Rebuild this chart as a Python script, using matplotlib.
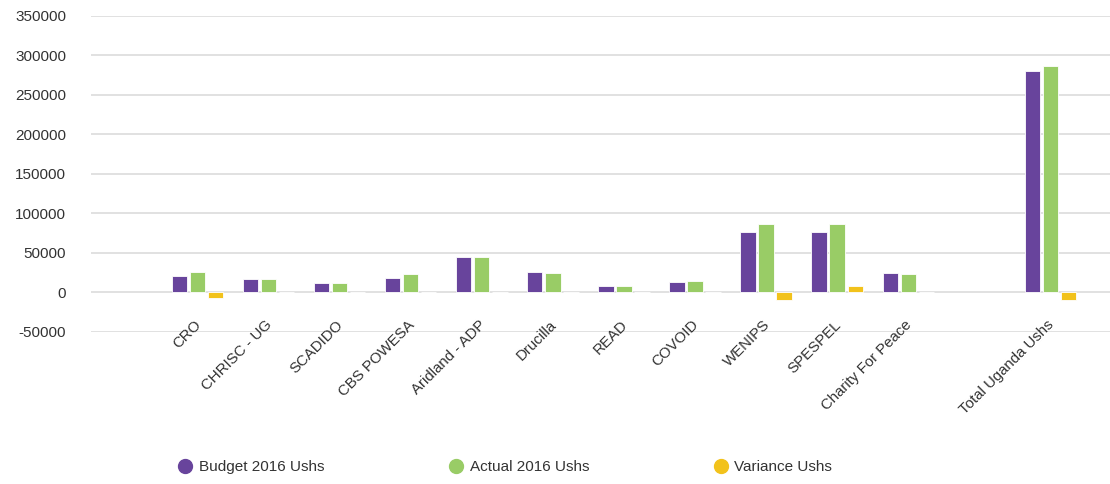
import numpy as np
import matplotlib
matplotlib.use("Agg")
import matplotlib.pyplot as plt
from matplotlib.lines import Line2D
from matplotlib.transforms import blended_transform_factory

plt.rcParams['font.family'] = ['Liberation Sans', 'DejaVu Sans']

categories = ["CRO", "CHRISC - UG", "SCADIDO", "CBS POWESA", "Aridland - ADP",
              "Drucilla", "READ", "COVOID", "WENIPS", "SPESPEL",
              "Charity For Peace", "", "Total Uganda Ushs"]
budget = [20000, 16000, 12000, 18000, 44000, 26000, 8000, 13000, 76000, 76000,
          24500, np.nan, 280000]
actual = [26000, 16000, 12000, 22500, 45000, 24500, 8000, 14500, 86000, 86000,
          23000, np.nan, 286500]
variance = [-7000, 0, 0, 0, 0, 0, 0, 0, -10500, 8000, 0, np.nan, -10500]
series_names = ["Budget 2016 Ushs", "Actual 2016 Ushs", "Variance Ushs"]
colors = ["#68449c", "#99cc66", "#f2c21b"]
yticks = [-50000, 0, 50000, 100000, 150000, 200000, 250000, 300000, 350000]

fig = plt.figure(figsize=(11.10, 4.84), dpi=100)
ax = fig.add_axes([0.082, 0.315, 0.918, 0.652])

x = np.arange(len(categories))
w = 0.215
step = 0.254
for k, (vals, c) in enumerate(zip([budget, actual, variance], colors)):
    ax.bar(x + (k - 1) * step, vals, width=w, color=c, edgecolor='white',
           linewidth=0.6, zorder=3)

ax.set_ylim(-50000, 350000)
ax.set_xlim(-1.5, 12.84)
ax.set_yticks(yticks)
ax.set_yticklabels([str(v) for v in yticks])
ax.tick_params(axis='y', length=0, pad=18, labelsize=11, labelcolor='#333333')
ax.set_xticks([])
ax.grid(axis='y', color='#dcdcdc', linewidth=1.2, zorder=0)
for s in ax.spines.values():
    s.set_visible(False)

trans = blended_transform_factory(ax.transData, ax.transAxes)
for xi, lab in zip(x, categories):
    ax.text(xi + 0.02, 0.028, lab, transform=trans, rotation=45,
            rotation_mode='anchor', ha='right', va='center',
            fontsize=10.8, color='#333333')

handles = [Line2D([], [], marker='o', linestyle='none', markersize=10,
                  markerfacecolor=c, markeredgecolor=c) for c in colors]
fig.legend(handles, series_names, loc='center left',
           bbox_to_anchor=(0.149, 0.035), ncol=3, frameon=False,
           fontsize=11, handlelength=0.8, handletextpad=0.5,
           columnspacing=8.2, labelcolor='#333333')

fig.savefig("out.png", dpi=100)
